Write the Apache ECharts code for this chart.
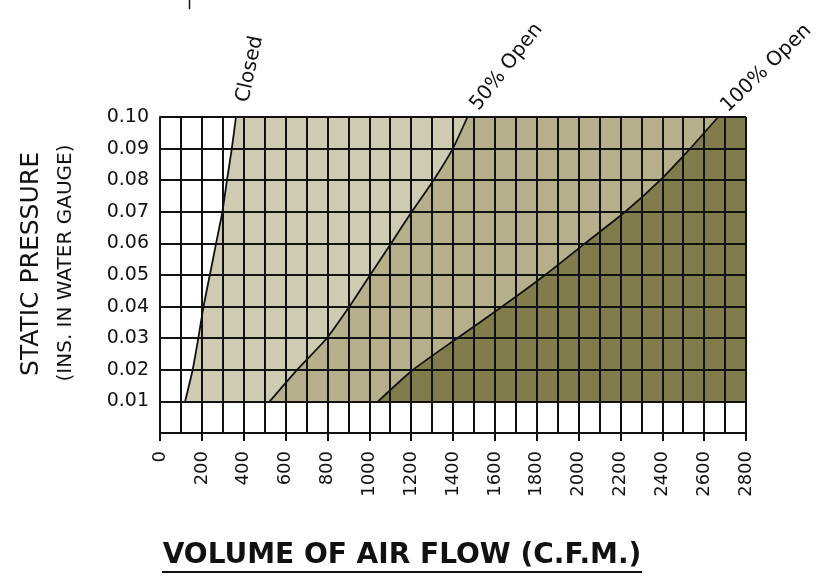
<!DOCTYPE html>
<html>
<head>
<meta charset="utf-8">
<script src="https://cdn.jsdelivr.net/npm/echarts@6/dist/echarts.min.js"></script>
<style>
html,body{margin:0;padding:0;background:#fff;}
#c{width:817px;height:582px;}
</style>
</head>
<body>
<div id="c"></div>
<script>
// Static pressure levels (in. water gauge)
var pressures = [0.01, 0.02, 0.03, 0.04, 0.05, 0.06, 0.07, 0.08, 0.09, 0.10];
// Air flow (CFM) at each pressure level for each damper position
var closedCfm  = [120, 156, 183, 208, 238, 268, 298, 320, 343, 363];
var halfCfm    = [524, 655, 797, 905, 1004, 1104, 1203, 1307, 1399, 1469];
var fullCfm    = [1042, 1209, 1420, 1635, 1840, 2031, 2223, 2390, 2533, 2667];
// Labels and axis settings
var curveNames = ['Closed', '50% Open', '100% Open'];
var fillColors = ['#cfcbb3', '#b5b08b', '#807c4c'];
var xMin = 0, xMax = 2800, xMinor = 100, xMajor = 200;
var yMin = 0, yMax = 0.10, yStep = 0.01;

var curves = [closedCfm, halfCfm, fullCfm];
function toPoints(arr) {
  return arr.map(function (x, i) { return [x, pressures[i]]; });
}

var chart = echarts.init(document.getElementById('c'), null, {renderer: 'canvas'});
var FONT = 'DejaVu Sans';
var INK = '#111';
var LW = 2;
var gridBox = {left: 160, right: 71, top: 117, bottom: 149};

var lineSeries = curves.map(function (arr, k) {
  return {
    type: 'line',
    name: curveNames[k],
    xAxisIndex: 0, yAxisIndex: 0,
    data: toPoints(arr),
    showSymbol: false,
    symbol: 'none',
    smooth: 0.2,
    z: 10,
    lineStyle: {color: INK, width: 1.8},
    silent: true,
    animation: false
  };
});

var fillSeries = {
  type: 'custom',
  xAxisIndex: 0, yAxisIndex: 0,
  z: 1,
  silent: true,
  animation: false,
  data: [0, 1, 2],
  renderItem: function (params, api) {
    var k = api.value(0);
    var pts = toPoints(curves[k]).map(function (p) { return api.coord(p); });
    pts.push(api.coord([xMax, pressures[pressures.length - 1]]));
    pts.push(api.coord([xMax, pressures[0]]));
    return {
      type: 'polygon',
      shape: {points: pts},
      style: {fill: fillColors[k], stroke: null}
    };
  },
  encode: {x: 0}
};

var option = {
  animation: false,
  backgroundColor: '#fff',
  grid: gridBox,
  xAxis: [
    {
      type: 'value', min: xMin, max: xMax, interval: xMinor,
      z: 5,
      axisLine: {show: false},
      axisTick: {show: false},
      axisLabel: {show: false},
      splitLine: {show: true, lineStyle: {color: INK, width: LW}}
    },
    {
      type: 'value', min: xMin, max: xMax, interval: xMajor,
      position: 'bottom',
      z: 6,
      axisLine: {show: true, lineStyle: {color: INK, width: LW}},
      axisTick: {show: true, length: 8, lineStyle: {color: INK, width: LW}},
      axisLabel: {
        show: true, rotate: 90, margin: 18,
        fontFamily: FONT, fontSize: 18, color: INK,
        formatter: function (v) { return String(v); }
      },
      splitLine: {show: false}
    }
  ],
  yAxis: [
    {
      type: 'value', min: yMin, max: yMax, interval: yStep,
      z: 5,
      axisLine: {show: true, lineStyle: {color: INK, width: LW}},
      axisTick: {show: false},
      axisLabel: {
        show: true, margin: 11,
        fontFamily: FONT, fontSize: 19, color: INK,
        formatter: function (v) { return v === 0 ? '' : v.toFixed(2); }
      },
      splitLine: {show: true, lineStyle: {color: INK, width: LW}}
    }
  ],
  series: [fillSeries].concat(lineSeries)
};
chart.setOption(option);

// Curve name labels placed relative to the top end of each curve
var labelRot = [78, 52, 44];
var labelOff = [[7, -15], [7, -9], [6, -8]];
var graphics = [];
curves.forEach(function (arr, k) {
  var top = chart.convertToPixel({xAxisIndex: 0, yAxisIndex: 0}, [arr[arr.length - 1], pressures[pressures.length - 1]]);
  graphics.push({
    type: 'text',
    x: top[0] + labelOff[k][0],
    y: top[1] + labelOff[k][1],
    rotation: labelRot[k] * Math.PI / 180,
    z: 20,
    silent: true,
    style: {
      text: curveNames[k], fill: INK,
      font: '20px "' + FONT + '"',
      align: 'left', verticalAlign: 'middle'
    }
  });
});

// Axis titles
graphics.push({
  type: 'text', x: 31, y: 264, rotation: Math.PI / 2, z: 20, silent: true,
  style: {text: 'STATIC PRESSURE', fill: INK, font: '25px "' + FONT + '"', align: 'center', verticalAlign: 'middle'}
});
graphics.push({
  type: 'text', x: 66, y: 263, rotation: Math.PI / 2, z: 20, silent: true,
  style: {text: '(INS. IN WATER GAUGE)', fill: INK, font: '20px "' + FONT + '"', align: 'center', verticalAlign: 'middle'}
});
graphics.push({
  type: 'text', x: 402, y: 556, z: 20, silent: true,
  style: {text: 'VOLUME OF AIR FLOW (C.F.M.)', fill: INK, font: 'bold 28px "' + FONT + '"', align: 'center', verticalAlign: 'middle'}
});
graphics.push({
  type: 'rect', z: 20, silent: true,
  shape: {x: 162, y: 571, width: 480, height: 2},
  style: {fill: INK}
});
// small stray tick at the top of the original figure
graphics.push({
  type: 'line', z: 20, silent: true,
  shape: {x1: 189.5, y1: 0, x2: 189.5, y2: 9},
  style: {stroke: INK, lineWidth: 1.5}
});

chart.setOption({graphic: graphics});
</script>
</body>
</html>
